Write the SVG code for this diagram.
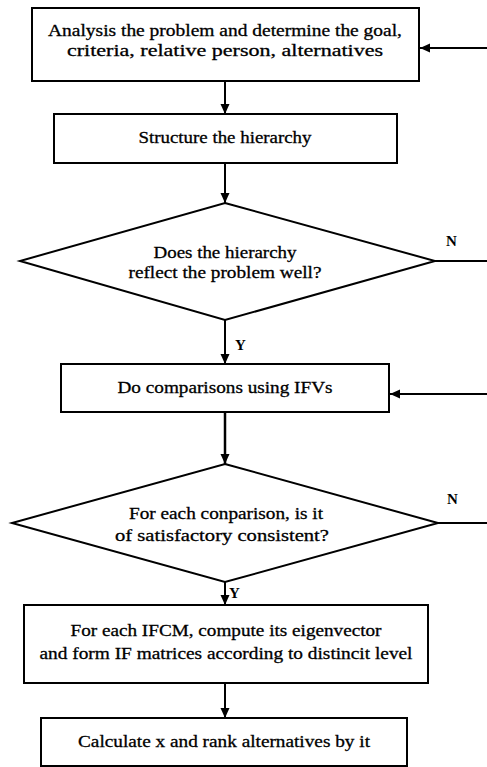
<svg xmlns="http://www.w3.org/2000/svg" width="487" height="767" viewBox="0 0 487 767">
<defs>
<marker id="ah" viewBox="0 0 10 10" refX="10" refY="5" markerWidth="10" markerHeight="10" markerUnits="userSpaceOnUse" orient="auto">
<path d="M0,0.5 L10,5 L0,9.5 z" fill="#000"/>
</marker>
</defs>
<style>
.box{fill:#fff;stroke:#000;stroke-width:2}
.t{font-family:'Liberation Serif','DejaVu Serif',serif;font-size:17px;fill:#000;stroke:#000;stroke-width:0.3;text-anchor:middle}
.lbl{font-family:'Liberation Serif','DejaVu Serif',serif;font-size:15px;font-weight:bold;fill:#000}
.c{fill:none;stroke:#000;stroke-width:2}
</style>
<rect width="487" height="767" fill="#fff"/>
<g id="connectors">
<line class="c" x1="225" y1="82" x2="225" y2="114" marker-end="url(#ah)"/>
<line class="c" x1="225" y1="163" x2="225" y2="203" marker-end="url(#ah)"/>
<line class="c" x1="225" y1="320" x2="225" y2="364" marker-end="url(#ah)"/>
<line class="c" x1="225" y1="412" x2="225" y2="464" marker-end="url(#ah)" style="stroke-width:2.5"/>
<line class="c" x1="225" y1="582" x2="225" y2="605" marker-end="url(#ah)"/>
<line class="c" x1="225" y1="683" x2="225" y2="718" marker-end="url(#ah)"/>
<line class="c" x1="435" y1="261" x2="487" y2="261"/>
<line class="c" x1="438" y1="523" x2="487" y2="523"/>
<line class="c" x1="487" y1="48" x2="420" y2="48" marker-end="url(#ah)"/>
<line class="c" x1="487" y1="394" x2="390" y2="394" marker-end="url(#ah)"/>
<text class="lbl" x="446" y="246">N</text>
<text class="lbl" x="447" y="504">N</text>
<text class="lbl" x="235" y="350">Y</text>
<text class="lbl" x="229" y="598">Y</text>
</g>
<g id="n1">
<rect class="box" x="32" y="8" width="387" height="73"/>
<text class="t" x="225" y="36" textLength="354" lengthAdjust="spacingAndGlyphs">Analysis the problem and determine the goal,</text>
<text class="t" x="225" y="56" textLength="316" lengthAdjust="spacingAndGlyphs">criteria, relative person, alternatives</text>
</g>
<g id="n2">
<rect class="box" x="54" y="114" width="343" height="49"/>
<text class="t" x="225" y="143" textLength="173" lengthAdjust="spacingAndGlyphs">Structure the hierarchy</text>
</g>
<g id="n3">
<polygon class="box" points="225,203 435,261 225,320 20,261"/>
<text class="t" x="225" y="258" textLength="143" lengthAdjust="spacingAndGlyphs">Does the hierarchy</text>
<text class="t" x="225" y="278" textLength="193" lengthAdjust="spacingAndGlyphs">reflect the problem well?</text>
</g>
<g id="n4">
<rect class="box" x="61" y="364" width="328" height="48"/>
<text class="t" x="225" y="393" textLength="215" lengthAdjust="spacingAndGlyphs">Do comparisons using IFVs</text>
</g>
<g id="n5">
<polygon class="box" points="225,464 438,523 225,582 12,523"/>
<text class="t" x="226" y="519" textLength="194" lengthAdjust="spacingAndGlyphs">For each conparison, is it</text>
<text class="t" x="222" y="541" textLength="214" lengthAdjust="spacingAndGlyphs">of satisfactory consistent?</text>
</g>
<g id="n6">
<rect class="box" x="24" y="605" width="404" height="78"/>
<text class="t" x="226" y="636" textLength="311" lengthAdjust="spacingAndGlyphs">For each IFCM, compute its eigenvector</text>
<text class="t" x="226" y="659" textLength="373" lengthAdjust="spacingAndGlyphs">and form IF matrices according to distincit level</text>
</g>
<g id="n7">
<rect class="box" x="41" y="718" width="366" height="48"/>
<text class="t" x="224" y="747" textLength="292" lengthAdjust="spacingAndGlyphs">Calculate x and rank alternatives by it</text>
</g>
</svg>
